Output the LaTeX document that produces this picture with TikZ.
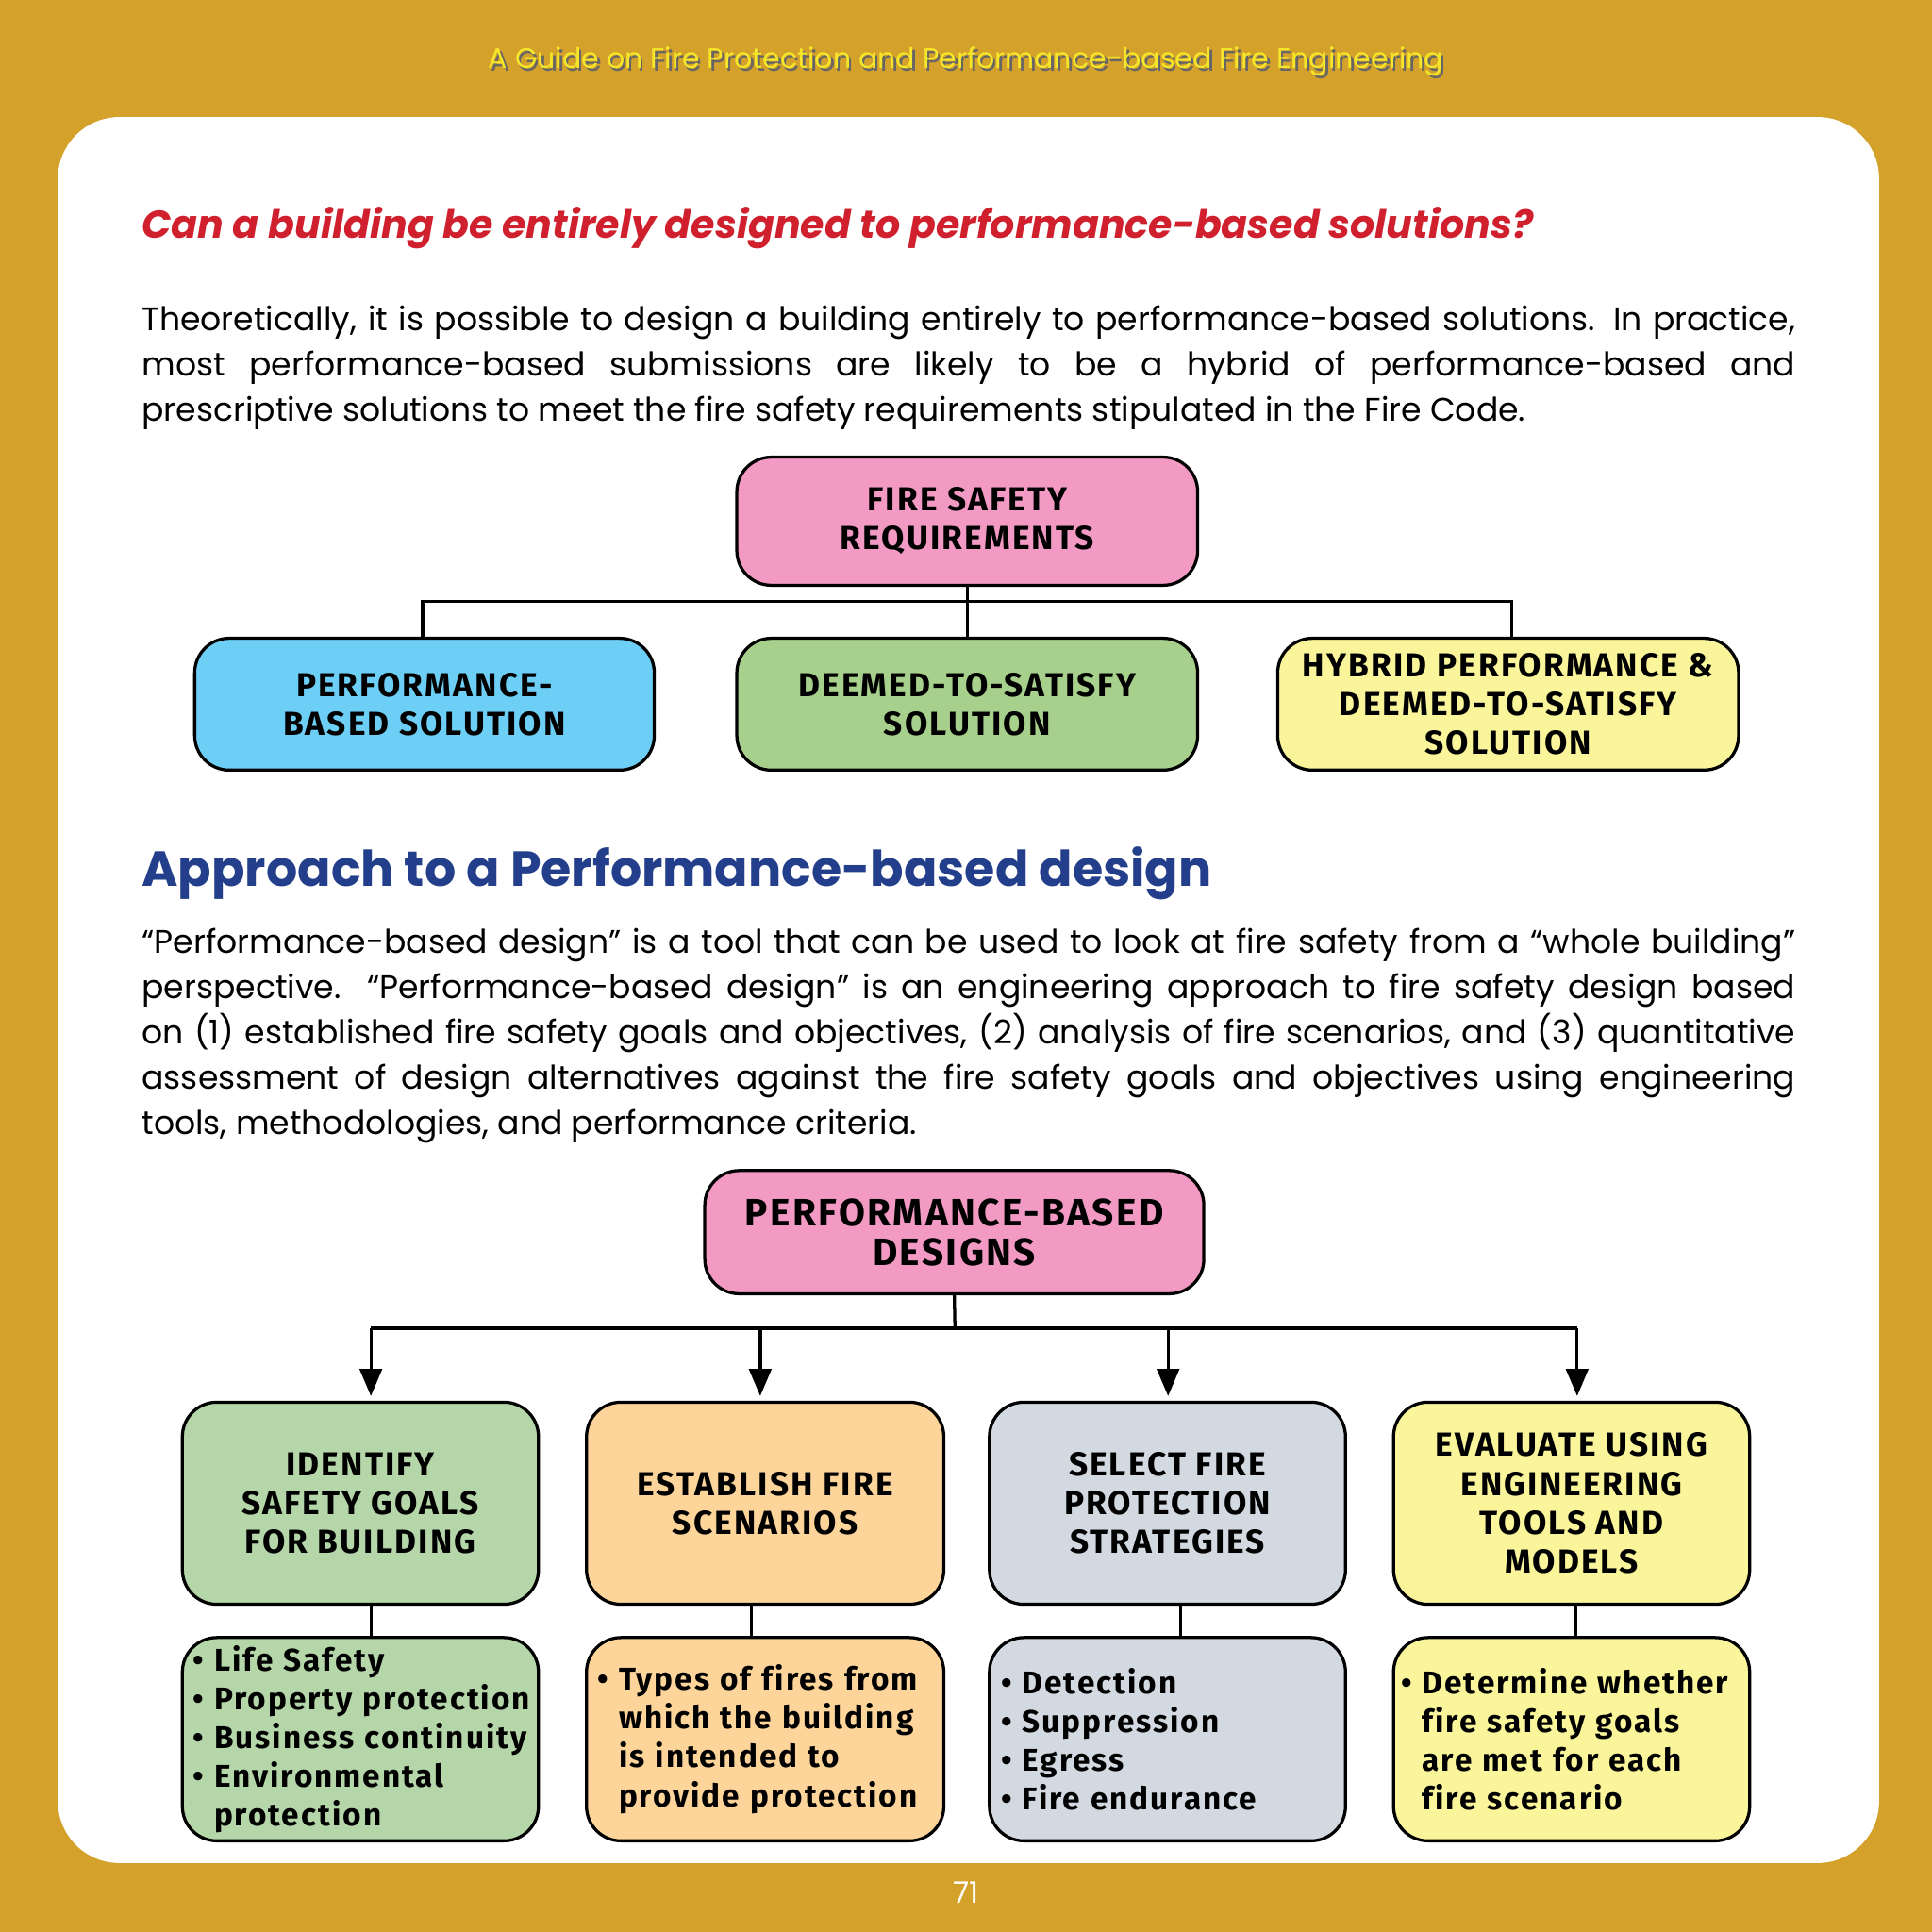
\documentclass[tikz,border=0pt]{standalone}
\usepackage{fontspec}
\setmainfont{Poppins}
\newfontfamily\boxfont[LetterSpace=6,Ligatures=NoCommon]{Fira Sans}
\usetikzlibrary{arrows.meta}
\definecolor{gold}{HTML}{D4A12A}
\definecolor{pinkb}{HTML}{F29AC4}
\definecolor{blueb}{HTML}{6DCFF6}
\definecolor{greenb}{HTML}{A8D08D}
\definecolor{yelb}{HTML}{FAF59A}
\definecolor{greenl}{HTML}{B5D6A8}
\definecolor{orangeb}{HTML}{FDD59A}
\definecolor{greyb}{HTML}{D3D9E0}
\definecolor{qred}{HTML}{D0202E}
\definecolor{hblue}{HTML}{233E8B}
\definecolor{hyel}{HTML}{F5E62A}
\tikzset{
 bx/.style={draw=black,line width=2.5pt,rounded corners=28pt,align=center,
   font=\boxfont\bfseries\fontsize{27}{31.5}\selectfont,inner sep=0pt},
 sub/.style={bx,align=left,text width=#1},
 ln/.style={line width=2.5pt},
 ar/.style={ln,-{Triangle[length=22pt,width=18pt]}},
 para/.style={anchor=north west,text width=1342pt,align=justify,inner sep=0pt,
   font=\fontsize{26.5}{36.8}\selectfont}
}
\begin{document}
\begin{tikzpicture}[x=1pt,y=-1pt]
\fill[gold] (0,0) rectangle (1568,1568);
\useasboundingbox (0,0) rectangle (1568,1568);
\fill[white,rounded corners=50pt] (47,95) rectangle (1525,1512);
\node (hdr) at (786,52) {\fontsize{23}{27}\selectfont\color{black!60}A Guide on Fire Protection and Performance-based Fire Engineering};
\node (hdr2) at (784,50) {\fontsize{23}{27}\selectfont\color{hyel}A Guide on Fire Protection and Performance-based Fire Engineering};
\node[anchor=west,inner sep=0pt] (q) at (115,185) {\color{qred}\bfseries\itshape\fontsize{31.5}{36}\selectfont Can a building be entirely designed to performance-based solutions?};
\node[para] (p1) at (115,248) {\hyphenpenalty=10000\exhyphenpenalty=10000\relax Theoretically, it is possible to design a building entirely to performance-based solutions. In practice,\linebreak most performance-based submissions are likely to be a hybrid of performance-based and\linebreak prescriptive solutions to meet the fire safety requirements stipulated in the Fire Code.};
% first diagram
\node[bx,fill=pinkb,minimum width=374pt,minimum height=104pt] (fsr) at (785,423) {FIRE SAFETY\\REQUIREMENTS};
\node[bx,fill=blueb,minimum width=373pt,minimum height=107pt] (pbs) at (344.5,571.5) {PERFORMANCE-\\BASED SOLUTION};
\node[bx,fill=greenb,minimum width=374pt,minimum height=107pt] (dts) at (785,571.5) {DEEMED-TO-SATISFY\\SOLUTION};
\node[bx,fill=yelb,minimum width=374pt,minimum height=107pt] (hyb) at (1224,571.5) {HYBRID PERFORMANCE \&\\DEEMED-TO-SATISFY\\SOLUTION};
\coordinate (j1) at (785,488);
\draw[ln] (fsr.south) -- (dts.north);
\draw[ln] (pbs.north -| 343,0) |- (j1) -| (hyb.north -| 1227,0);
\node[anchor=west,inner sep=0pt] (h2) at (115,709) {\color{hblue}\bfseries\fontsize{40}{50}\selectfont Approach to a Performance-based design};
\node[para] (p2) at (115,753) {\hyphenpenalty=10000\exhyphenpenalty=10000\relax “Performance-based design” is a tool that can be used to look at fire safety from a “whole building”\linebreak perspective. “Performance-based design” is an engineering approach to fire safety design based\linebreak on (1) established fire safety goals and objectives, (2) analysis of fire scenarios, and (3) quantitative\linebreak assessment of design alternatives against the fire safety goals and objectives using engineering\linebreak tools, methodologies, and performance criteria.};
% second diagram
\node[bx,fill=pinkb,minimum width=405pt,minimum height=100pt,font=\boxfont\bfseries\fontsize{31}{32}\selectfont] (pbd) at (774.5,1000) {PERFORMANCE-BASED\\DESIGNS};
\node[bx,fill=greenl,minimum width=289pt,minimum height=164pt] (b1) at (292.5,1220) {IDENTIFY\\SAFETY GOALS\\FOR BUILDING};
\node[bx,fill=orangeb,minimum width=290pt,minimum height=164pt] (b2) at (621,1220) {ESTABLISH FIRE\\SCENARIOS};
\node[bx,fill=greyb,minimum width=289pt,minimum height=164pt] (b3) at (947.5,1220) {SELECT FIRE\\PROTECTION\\STRATEGIES};
\node[bx,fill=yelb,minimum width=289pt,minimum height=164pt] (b4) at (1275.5,1220) {EVALUATE USING\\ENGINEERING\\TOOLS AND\\MODELS};
\coordinate (j2) at (775,1078);
\draw[ln] (pbd.south) -- (j2);
\draw[ln] (301,1078) -- (1280,1078);
\foreach \x/\b in {301/b1,617/b2,948/b3,1280/b4}
  \draw[ar] (\x,1078) -- (\x,1133);
\node[sub=272pt,fill=greenl,minimum width=289pt,minimum height=165pt,font=\boxfont\bfseries\fontsize{25.5}{31.5}\selectfont] (s1) at (292.5,1411.5) {• Life Safety\\• Property protection\\• Business continuity\\• Environmental\\\hphantom{• }protection};
\node[sub=272pt,fill=orangeb,minimum width=290pt,minimum height=165pt,font=\boxfont\bfseries\fontsize{25.5}{31.5}\selectfont] (s2) at (621,1411.5) {• Types of fires from\\\hphantom{• }which the building\\\hphantom{• }is intended to\\\hphantom{• }provide protection};
\node[sub=270pt,fill=greyb,minimum width=289pt,minimum height=165pt,font=\boxfont\bfseries\fontsize{25.5}{31.5}\selectfont] (s3) at (947.5,1411.5) {• Detection\\• Suppression\\• Egress\\• Fire endurance};
\node[sub=277pt,fill=yelb,minimum width=289pt,minimum height=165pt,font=\boxfont\bfseries\fontsize{25.5}{31.5}\selectfont] (s4) at (1275.5,1411.5) {• Determine whether\\\hphantom{• }fire safety goals\\\hphantom{• }are met for each\\\hphantom{• }fire scenario};
\draw[ln] (b1.south -| 301,0) -- (s1.north -| 301,0);
\draw[ln] (b2.south -| 610,0) -- (s2.north -| 610,0);
\draw[ln] (b3.south -| 958,0) -- (s3.north -| 958,0);
\draw[ln] (b4.south -| 1279,0) -- (s4.north -| 1279,0);
\node[text=white] (pg) at (784,1536) {\fontsize{24}{28}\selectfont 71};
\end{tikzpicture}
\end{document}
